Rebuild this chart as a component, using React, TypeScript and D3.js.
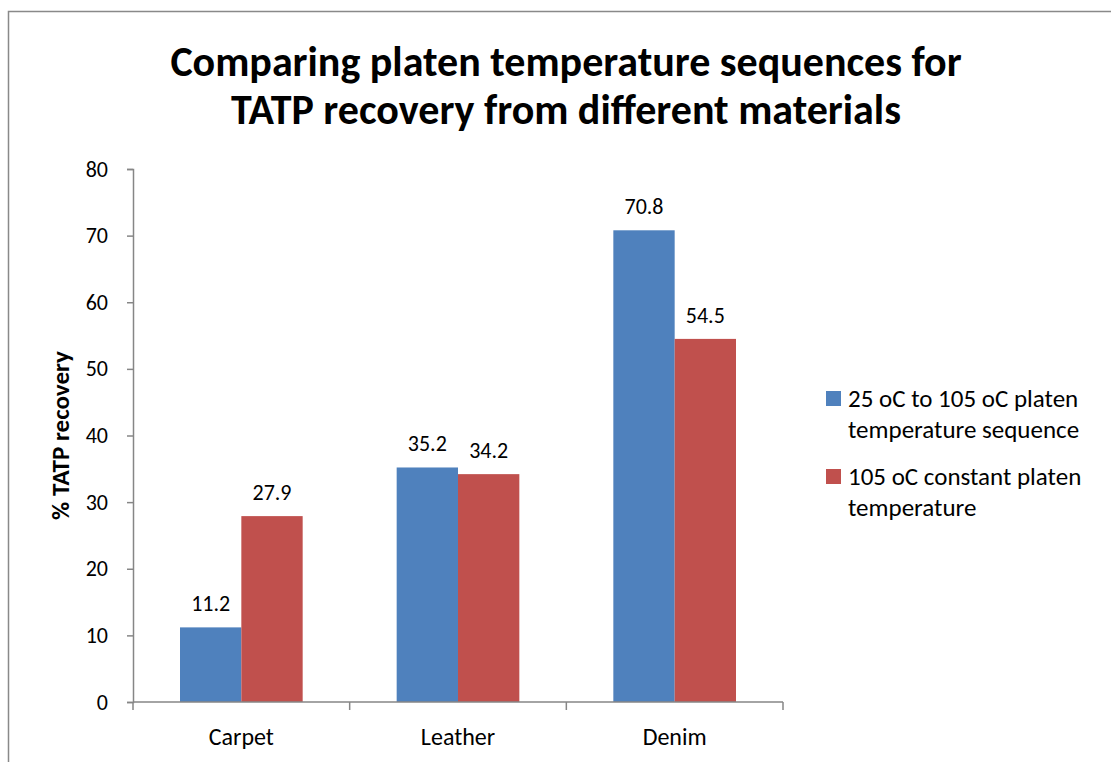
import React, { useRef, useEffect } from 'react';
import * as d3 from 'd3';

const categories = ['Carpet', 'Leather', 'Denim'];
const seriesNames = [
    '25 oC to 105 oC platen temperature sequence',
    '105 oC constant platen temperature',
];
const sequenceValues = [11.2, 35.2, 70.8];
const constantValues = [27.9, 34.2, 54.5];
const yTicks = [0, 10, 20, 30, 40, 50, 60, 70, 80];
const legendLines = [
    ['25 oC to 105 oC platen', 'temperature sequence'],
    ['105 oC constant platen', 'temperature'],
];
const colors = ['#4F81BD', '#C0504D'];

const FONT = 'Carlito, Calibri, Lato, sans-serif';

const App = () => {
    const svgRef = useRef(null);

    useEffect(() => {
        const svg = d3.select(svgRef.current);
        svg.selectAll('*').remove();

        const plot = { left: 133, right: 783, top: 169, bottom: 702 };

        // outer frame
        svg.append('rect')
            .attr('x', 8.5)
            .attr('y', 11.5)
            .attr('width', 1200)
            .attr('height', 900)
            .attr('fill', 'white')
            .attr('stroke', '#898989')
            .attr('stroke-width', 1.5);

        const x0 = d3.scaleBand()
            .domain(categories)
            .range([plot.left, plot.right])
            .paddingInner(0)
            .paddingOuter(0);

        const x1 = d3.scaleBand()
            .domain(['0', '1'])
            .range([47, x0.bandwidth() - 47]);

        const y = d3.scaleLinear()
            .domain([0, 80])
            .range([plot.bottom, plot.top]);

        const grouped = categories.map((c, i) => [
            { key: '0', value: sequenceValues[i] },
            { key: '1', value: constantValues[i] },
        ]);

        // bars
        const groups = svg.append('g')
            .selectAll('g')
            .data(categories)
            .join('g')
            .attr('transform', d => `translate(${x0(d)},0)`);

        groups.selectAll('rect')
            .data((d, i) => grouped[i])
            .join('rect')
            .attr('x', d => x1(d.key))
            .attr('y', d => y(d.value))
            .attr('width', x1.bandwidth())
            .attr('height', d => y(0) - y(d.value))
            .attr('fill', d => colors[+d.key]);

        groups.selectAll('text')
            .data((d, i) => grouped[i])
            .join('text')
            .attr('x', d => x1(d.key) + x1.bandwidth() / 2)
            .attr('y', d => y(d.value) - 16)
            .attr('text-anchor', 'middle')
            .attr('font-family', FONT)
            .attr('font-size', '22px')
            .attr('fill', 'black')
            .text(d => d.value.toFixed(1));

        // y axis
        const yAxis = svg.append('g')
            .attr('transform', `translate(${plot.left},0)`)
            .call(d3.axisLeft(y).tickValues(yTicks).tickSize(6).tickPadding(19));
        yAxis.select('.domain').attr('stroke', '#868686').attr('stroke-width', 1.5);
        yAxis.selectAll('.tick line').attr('stroke', '#868686').attr('stroke-width', 1.5);
        yAxis.selectAll('.tick text')
            .attr('font-family', FONT)
            .attr('font-size', '22px')
            .attr('fill', 'black');

        // x axis
        const xAxis = svg.append('g')
            .attr('transform', `translate(0,${plot.bottom})`);
        xAxis.append('line')
            .attr('x1', plot.left)
            .attr('x2', plot.right)
            .attr('stroke', '#868686')
            .attr('stroke-width', 1.5);
        const boundaries = categories.map(c => x0(c)).concat([x0.range()[1]]);
        xAxis.selectAll('.xtick')
            .data(boundaries)
            .join('line')
            .attr('class', 'xtick')
            .attr('x1', d => d)
            .attr('x2', d => d)
            .attr('y1', 0)
            .attr('y2', 8)
            .attr('stroke', '#868686')
            .attr('stroke-width', 1.5);
        xAxis.selectAll('.xlabel')
            .data(categories)
            .join('text')
            .attr('class', 'xlabel')
            .attr('x', d => x0(d) + x0.bandwidth() / 2)
            .attr('y', 43)
            .attr('text-anchor', 'middle')
            .attr('font-family', FONT)
            .attr('font-size', '24px')
            .attr('fill', 'black')
            .text(d => d);

        // y axis title
        svg.append('text')
            .attr('transform', `translate(69,${(plot.top + plot.bottom) / 2}) rotate(-90)`)
            .attr('text-anchor', 'middle')
            .attr('font-family', FONT)
            .attr('font-weight', 'bold')
            .attr('font-size', '25px')
            .attr('fill', 'black')
            .text('% TATP recovery');

        // title
        const title = svg.append('text')
            .attr('text-anchor', 'middle')
            .attr('font-family', FONT)
            .attr('font-weight', 'bold')
            .attr('font-size', '42px')
            .attr('fill', 'black');
        title.append('tspan').attr('x', 566).attr('y', 76).text('Comparing platen temperature sequences for');
        title.append('tspan').attr('x', 566).attr('y', 124).text('TATP recovery from different materials');

        // legend
        const legend = svg.append('g');
        seriesNames.forEach((name, i) => {
            const base = 407 + i * 78;
            legend.append('rect')
                .attr('x', 826)
                .attr('y', base - 16)
                .attr('width', 15)
                .attr('height', 15)
                .attr('fill', colors[i])
                .append('title')
                .text(name);
            legendLines[i].forEach((line, j) => {
                legend.append('text')
                    .attr('x', 848)
                    .attr('y', base + j * 31)
                    .attr('font-family', FONT)
                    .attr('font-size', '25px')
                    .attr('fill', 'black')
                    .text(line);
            });
        });
    }, []);

    return (
        <svg ref={svgRef} width={1111} height={762} style={{ position: 'absolute', left: 0, top: 0 }}></svg>
    );
};

export default App;
